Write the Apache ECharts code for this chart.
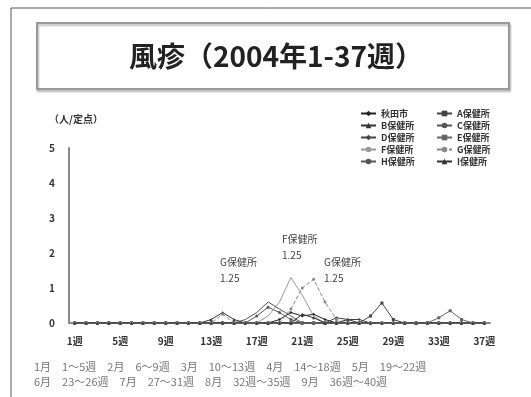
<!DOCTYPE html>
<html lang="ja">
<head>
<meta charset="UTF-8">
<title>風疹</title>
<style>
  html, body { margin: 0; padding: 0; background: #fff; }
  #main { width: 531px; height: 397px; }
</style>
</head>
<body>
<div id="main"></div>
<script src="https://cdn.jsdelivr.net/npm/echarts@6/dist/echarts.min.js"></script>
<script>
// 週ラベル
var weeks = [];
for (var i = 1; i <= 37; i++) { weeks.push(i + '週'); }

var names = ['秋田市', 'A保健所', 'B保健所', 'C保健所', 'D保健所',
             'E保健所', 'F保健所', 'G保健所', 'H保健所', 'I保健所'];

// 各保健所の定点当たり報告数
var akita = [0,0,0,0,0,0,0,0,0,0, 0,0,0,0,0,0,0,0,0.1,0.3, 0.2,0.25,0.1,0,0,0,0,0,0,0, 0,0,0,0,0,0,0];
var hcA   = [0,0,0,0,0,0,0,0,0,0, 0,0,0,0,0,0,0,0,0,0, 0,0,0,0,0,0,0.2,0.57,0.1,0, 0,0,0,0,0,0,0];
var hcB   = [0,0,0,0,0,0,0,0,0,0, 0,0,0.1,0.3,0.1,0,0,0,0,0, 0,0,0,0,0.1,0,0,0,0,0, 0,0,0,0,0,0,0];
var hcC   = [0,0,0,0,0,0,0,0,0,0, 0,0,0,0,0,0,0.2,0.45,0.3,0.1, 0,0,0,0,0,0,0,0,0,0, 0,0,0,0,0,0,0];
var hcD   = [0,0,0,0,0,0,0,0,0,0, 0,0,0,0,0,0,0,0,0,0, 0,0,0,0.15,0.1,0.1,0,0,0,0, 0,0,0,0,0,0,0];
var hcE   = [0,0,0,0,0,0,0,0,0,0, 0,0,0,0,0,0,0,0,0,0, 0,0,0,0,0,0,0,0,0,0, 0,0,0.15,0.35,0.1,0,0];
var hcF   = [0,0,0,0,0,0,0,0,0,0, 0,0,0,0,0,0,0,0.2,0.6,1.3, 0.8,0.2,0,0,0,0,0,0,0,0, 0,0,0,0,0,0,0];
var hcG   = [0,0,0,0,0,0,0,0,0,0, 0,0,0,0.25,0,0,0,0,0,0.4, 1.0,1.25,0.6,0.1,0,0,0,0,0,0, 0,0,0,0,0,0,0];
var hcH   = [0,0,0,0,0,0,0,0,0,0, 0,0,0,0,0,0.1,0.3,0.6,0.4,0.2, 0,0,0,0,0,0,0,0,0,0, 0,0,0,0,0,0,0];
var hcI   = [0,0,0,0,0,0,0,0,0,0, 0,0,0,0,0,0,0,0,0,0, 0.25,0.15,0,0,0,0,0,0,0,0, 0,0,0,0,0,0,0];

var allData = [akita, hcA, hcB, hcC, hcD, hcE, hcF, hcG, hcH, hcI];
var lineColors = ['#222', '#444', '#333', '#555', '#444', '#666', '#999', '#888', '#555', '#333'];
var lineTypes  = ['solid', 'solid', 'solid', 'solid', 'solid', 'solid', 'solid', 'dashed', 'solid', 'solid'];
var symbols    = ['diamond', 'rect', 'triangle', 'circle', 'diamond', 'rect', 'none', 'circle', 'none', 'triangle'];

var myChart = echarts.init(document.getElementById('main'));

var series = [];
for (var k = 0; k < names.length; k++) {
    series.push({
        name: names[k],
        type: 'line',
        data: allData[k],
        symbol: symbols[k],
        symbolSize: 3,
        showSymbol: symbols[k] !== 'none',
        lineStyle: { width: 1, color: lineColors[k], type: lineTypes[k] },
        itemStyle: { color: lineColors[k] },
        animation: false
    });
}

var legendText = { fontSize: 9, fontWeight: 'bold', color: '#333', fontFamily: 'Noto Sans CJK JP' };

var option = {
    textStyle: { fontFamily: 'Noto Sans CJK JP' },
    title: {
        text: '風疹（2004年1-37週）',
        left: 271,
        textAlign: 'center',
        top: 37,
        textStyle: { fontSize: 28, fontWeight: 'bold', color: '#222', fontFamily: 'Noto Sans CJK JP' }
    },
    legend: [{
        data: ['秋田市', 'B保健所', 'D保健所', 'F保健所', 'H保健所'],
        orient: 'vertical',
        left: 355, top: 104,
        itemWidth: 15, itemHeight: 7, itemGap: 3,
        textStyle: legendText
    }, {
        data: ['A保健所', 'C保健所', 'E保健所', 'G保健所', 'I保健所'],
        orient: 'vertical',
        left: 431, top: 104,
        itemWidth: 15, itemHeight: 7, itemGap: 3,
        textStyle: legendText
    }],
    grid: { left: 69, top: 148, right: 41, bottom: 74 },
    xAxis: {
        type: 'category',
        data: weeks,
        boundaryGap: true,
        axisLine: { lineStyle: { color: '#888', width: 2 } },
        axisTick: { show: false },
        axisLabel: { interval: 3, fontSize: 10, fontWeight: 'bold', color: '#333', margin: 13 }
    },
    yAxis: {
        type: 'value',
        min: 0, max: 5, interval: 1,
        name: '（人/定点）',
        nameGap: 24,
        nameTextStyle: { fontSize: 10, fontWeight: 'bold', color: '#333', padding: [0, 0, 0, 14] },
        axisLine: { show: true, lineStyle: { color: '#888', width: 2 } },
        axisTick: { show: false },
        splitLine: { show: false },
        axisLabel: { fontSize: 10, fontWeight: 'bold', color: '#333', margin: 14 }
    },
    graphic: [{
        type: 'rect',
        shape: { x: 11, y: 8, width: 540, height: 420 },
        style: { fill: 'none', stroke: '#555', lineWidth: 1 },
        z: -10
    }, {
        type: 'rect',
        shape: { x: 37, y: 23, width: 472, height: 66 },
        style: { fill: '#fff', stroke: '#999', lineWidth: 2,
                 shadowBlur: 2, shadowOffsetX: 1, shadowOffsetY: 2, shadowColor: '#bbb' },
        z: -5
    }, {
        type: 'text', left: 220, top: 254,
        style: { text: 'G保健所\n1.25', align: 'center', fontSize: 10, lineHeight: 16, fill: '#444', fontFamily: 'Noto Sans CJK JP' }
    }, {
        type: 'text', left: 282, top: 231,
        style: { text: 'F保健所\n1.25', align: 'center', fontSize: 10, lineHeight: 16, fill: '#444', fontFamily: 'Noto Sans CJK JP' }
    }, {
        type: 'text', left: 324, top: 254,
        style: { text: 'G保健所\n1.25', align: 'center', fontSize: 10, lineHeight: 16, fill: '#444', fontFamily: 'Noto Sans CJK JP' }
    }, {
        type: 'text', left: 34, top: 359,
        style: {
            text: '1月　1～5週　2月　6～9週　3月　10～13週　4月　14～18週　5月　19～22週\n6月　23～26週　7月　27～31週　8月　32週～35週　9月　36週～40週',
            fontSize: 11, lineHeight: 15, fill: '#777', fontFamily: 'Noto Sans CJK JP'
        }
    }],
    series: series
};

myChart.setOption(option);
</script>
</body>
</html>
